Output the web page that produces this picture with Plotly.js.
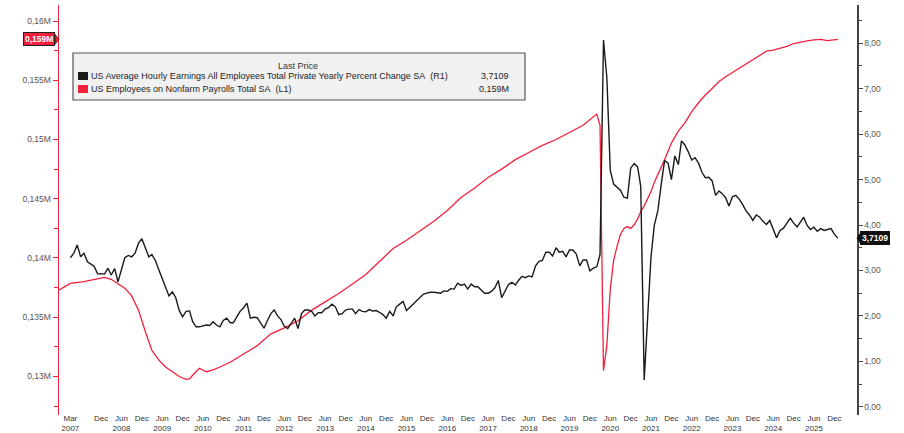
<!DOCTYPE html>
<html>
<head>
<meta charset="utf-8">
<script src="https://cdn.plot.ly/plotly-3.0.1.min.js"></script>
<style>
  html, body { margin: 0; padding: 0; background: #ffffff; }
  #chart { width: 904px; height: 433px; }
</style>
</head>
<body>
<div id="chart"></div>
<script>
// ---------------- DATA ----------------
// US Average Hourly Earnings, yoy % (R1), monthly from Mar 2007
const aheStart = '2007-03';
const aheValues = [
  /*2007*/ 3.28, 3.38, 3.56, 3.30, 3.38, 3.19, 3.14, 3.09, 2.92, 2.93,
  /*2008*/ 2.92, 3.05, 2.90, 3.04, 2.75, 3.05, 3.28, 3.33, 3.30, 3.38, 3.60, 3.70,
  /*2009*/ 3.50, 3.30, 3.35, 3.22, 3.02, 2.82, 2.60, 2.44, 2.53, 2.40, 2.12, 1.98,
  /*2010*/ 2.10, 2.11, 1.88, 1.76, 1.76, 1.78, 1.80, 1.79, 1.87, 1.80, 1.76, 1.90,
  /*2011*/ 1.95, 1.85, 1.85, 1.98, 2.10, 2.18, 2.28, 1.95, 1.97, 1.96, 1.84, 1.73,
  /*2012*/ 1.90, 2.05, 2.13, 2.00, 1.92, 1.77, 1.72, 1.83, 1.95, 1.72, 2.05, 2.13,
  /*2013*/ 2.13, 2.10, 2.00, 2.07, 2.07, 2.15, 2.18, 2.26, 2.20, 2.03, 2.05, 2.13,
  /*2014*/ 2.15, 2.15, 2.05, 2.14, 2.10, 2.09, 2.14, 2.11, 2.12, 2.08, 2.03, 1.95,
  /*2015*/ 2.10, 2.00, 2.20, 2.26, 2.32, 2.12, 2.20, 2.26, 2.34, 2.42, 2.48, 2.50,
  /*2016*/ 2.52, 2.52, 2.51, 2.50, 2.55, 2.54, 2.60, 2.59, 2.72, 2.67, 2.70, 2.59,
  /*2017*/ 2.70, 2.64, 2.64, 2.56, 2.50, 2.50, 2.54, 2.62, 2.78, 2.40, 2.56, 2.69,
  /*2018*/ 2.74, 2.68, 2.78, 2.87, 2.84, 2.88, 2.86, 3.10, 3.20, 3.22, 3.40, 3.40,
  /*2019*/ 3.32, 3.50, 3.40, 3.42, 3.30, 3.45, 3.45, 3.36, 3.10, 3.23, 3.23, 2.99,
  /*2020*/ 3.05, 3.08, 3.35, 8.07, 7.25, 5.20, 4.90, 4.82, 4.76, 4.61, 4.59, 5.25,
  /*2021*/ 5.35, 5.28, 4.85, 0.59, 2.00, 3.30, 4.00, 4.31, 4.90, 5.42, 5.36, 5.00,
  /*2022*/ 5.52, 5.33, 5.85, 5.76, 5.61, 5.43, 5.48, 5.36, 5.16, 5.04, 5.05, 4.97,
  /*2023*/ 4.65, 4.75, 4.69, 4.60, 4.42, 4.62, 4.65, 4.57, 4.45, 4.31, 4.22, 4.10,
  /*2024*/ 4.22, 4.17, 4.08, 4.01, 4.10, 3.90, 3.72, 3.88, 3.93, 4.04, 4.15, 4.04,
  /*2025*/ 3.96, 4.07, 4.17, 3.99, 3.90, 3.95, 3.86, 3.92, 3.88, 3.90, 3.92, 3.80,
  /*2026*/ 3.7109
];

// US Employees on Nonfarm Payrolls Total SA (L1), millions
const nfpDates = [
  '2006-11-01',
  '2007-03-01','2007-07-01','2007-11-01',
  '2008-01-01','2008-03-01','2008-05-01','2008-07-01','2008-09-01','2008-11-01',
  '2009-01-01','2009-03-01','2009-05-01','2009-07-01','2009-09-01','2009-11-01',
  '2010-01-01','2010-02-01','2010-03-01','2010-05-01','2010-07-01','2010-09-01','2010-11-01',
  '2011-02-01','2011-06-01','2011-10-01',
  '2012-02-01','2012-06-01','2012-10-01',
  '2013-02-01','2013-06-01','2013-10-01',
  '2014-02-01','2014-06-01','2014-10-01',
  '2015-02-01','2015-06-01','2015-10-01',
  '2016-02-01','2016-06-01','2016-10-01',
  '2017-02-01','2017-06-01','2017-10-01',
  '2018-02-01','2018-06-01','2018-10-01',
  '2019-02-01','2019-06-01','2019-10-01',
  '2020-02-01','2020-03-01','2020-04-01','2020-05-01','2020-06-01','2020-07-01','2020-08-01','2020-09-01','2020-10-01','2020-11-01','2020-12-01',
  '2021-01-01','2021-02-01','2021-03-01','2021-04-01','2021-05-01','2021-06-01','2021-07-01','2021-08-01','2021-09-01','2021-10-01','2021-12-01',
  '2022-02-01','2022-04-01','2022-06-01','2022-08-01','2022-10-01','2022-12-01',
  '2023-02-01','2023-04-01','2023-06-01','2023-08-01','2023-10-01','2023-12-01',
  '2024-02-01','2024-04-01','2024-06-01','2024-08-01','2024-10-01','2024-12-01',
  '2025-02-01','2025-04-01','2025-06-01','2025-08-01','2025-10-01','2025-12-01',
  '2026-01-01'
];
const nfpValues = [
  137.2,
  137.85, 138.0, 138.25,
  138.37, 138.2, 137.85, 137.45, 136.8, 135.6,
  133.8, 132.2, 131.4, 130.8, 130.4, 130.0,
  129.75, 129.8, 130.1, 130.7, 130.4, 130.55, 130.8,
  131.2, 131.9, 132.6,
  133.6, 134.1, 134.7,
  135.6, 136.3, 137.0,
  137.8, 138.6, 139.7,
  140.8, 141.5, 142.3,
  143.1, 144.0, 145.1,
  145.9, 146.8, 147.5,
  148.3, 148.9, 149.5,
  150.0, 150.6, 151.2,
  152.15, 151.2, 130.5, 132.6, 137.4, 139.8, 141.0, 142.0, 142.5, 142.65, 142.5,
  142.8, 143.3, 143.9, 144.4, 145.0, 145.6, 146.4, 147.0, 147.6, 148.3, 149.7,
  150.7, 151.4, 152.35, 153.1, 153.75, 154.3,
  154.9, 155.3, 155.65, 156.05, 156.4, 156.75,
  157.1, 157.45, 157.55, 157.7, 157.85, 158.1,
  158.25, 158.33, 158.4, 158.45, 158.35, 158.4,
  158.45
];

// Tick labels
const xTickVals = [
  '2007-03-01','2007-12-01',
  '2008-06-01','2008-12-01','2009-06-01','2009-12-01','2010-06-01','2010-12-01',
  '2011-06-01','2011-12-01','2012-06-01','2012-12-01','2013-06-01','2013-12-01',
  '2014-06-01','2014-12-01','2015-06-01','2015-12-01','2016-06-01','2016-12-01',
  '2017-06-01','2017-12-01','2018-06-01','2018-12-01','2019-06-01','2019-12-01',
  '2020-06-01','2020-12-01','2021-06-01','2021-12-01','2022-06-01','2022-12-01',
  '2023-06-01','2023-12-01','2024-06-01','2024-12-01','2025-06-01','2025-12-01'
];
const xTickText = [
  'Mar<br>2007','Dec',
  'Jun<br>2008','Dec','Jun<br>2009','Dec','Jun<br>2010','Dec',
  'Jun<br>2011','Dec','Jun<br>2012','Dec','Jun<br>2013','Dec',
  'Jun<br>2014','Dec','Jun<br>2015','Dec','Jun<br>2016','Dec',
  'Jun<br>2017','Dec','Jun<br>2018','Dec','Jun<br>2019','Dec',
  'Jun<br>2020','Dec','Jun<br>2021','Dec','Jun<br>2022','Dec',
  'Jun<br>2023','Dec','Jun<br>2024','Dec','Jun<br>2025','Dec'
];
const leftTickVals = [130, 135, 140, 145, 150, 155, 160];
const leftTickText = ['0,13M','0,135M','0,14M','0,145M','0,15M','0,155M','0,16M'];
const rightTickVals = [0, 1, 2, 3, 4, 5, 6, 7, 8];
const rightTickText = ['0,00','1,00','2,00','3,00','4,00','5,00','6,00','7,00','8,00'];

const legendTitle = 'Last Price';
const aheName = 'US Average Hourly Earnings All Employees Total Private Yearly Percent Change SA\u00a0\u00a0(R1)';
const nfpName = 'US Employees on Nonfarm Payrolls Total SA\u00a0\u00a0(L1)';
const aheLastLabel = '3,7109';
const nfpLastLabel = '0,159M';

// ---------------- BUILD ----------------
function monthSeq(start, n) {
  const [y0, m0] = start.split('-').map(Number);
  const out = [];
  for (let i = 0; i < n; i++) {
    const t = (m0 - 1) + i;
    const y = y0 + Math.floor(t / 12);
    const m = (t % 12) + 1;
    out.push(y + '-' + String(m).padStart(2, '0') + '-01');
  }
  return out;
}
const aheDates = monthSeq(aheStart, aheValues.length);

const RED = '#f2203c';
const BLACK = '#1a1a1a';
const FONT = '"Liberation Sans", Arial, sans-serif';

const traces = [
  { x: nfpDates, y: nfpValues, type: 'scatter', mode: 'lines', yaxis: 'y',
    line: { color: RED, width: 1.3 }, hoverinfo: 'skip' },
  { x: aheDates, y: aheValues, type: 'scatter', mode: 'lines', yaxis: 'y2',
    line: { color: BLACK, width: 1.4 }, hoverinfo: 'skip' }
];

const L = 59, R = 857, T = 5, B = 415;
const px = v => (v - L) / (R - L);
const py = v => (B - v) / (B - T);

const lastNfp = nfpValues[nfpValues.length - 1];
const lastAhe = aheValues[aheValues.length - 1];

const layout = {
  width: 904, height: 433,
  margin: { l: L, r: 904 - R, t: T, b: 433 - B, pad: 0 },
  paper_bgcolor: '#ffffff', plot_bgcolor: '#ffffff',
  showlegend: false,
  font: { family: FONT, size: 8.5, color: '#444' },
  xaxis: {
    type: 'date', range: ['2006-11-19', '2026-06-22'],
    tickmode: 'array', tickvals: xTickVals, ticktext: xTickText,
    ticks: '', showgrid: false, zeroline: false, showline: false,
    ticklabelstandoff: -3,
    tickfont: { family: FONT, size: 8, color: '#333' }, automargin: false
  },
  yaxis: {
    range: [126.75, 161.35],
    tickmode: 'array', tickvals: leftTickVals, ticktext: leftTickText,
    ticks: 'outside', ticklen: 5, tickwidth: 1, tickcolor: RED,
    showline: true, linecolor: RED, linewidth: 1.5,
    showgrid: false, zeroline: false, automargin: false,
    tickfont: { family: FONT, size: 8.5, color: '#555' },
    minor: { tickmode: 'linear', tick0: 127.5, dtick: 5, ticks: 'outside', ticklen: 4, tickcolor: RED, showgrid: false }
  },
  yaxis2: {
    overlaying: 'y', side: 'right',
    range: [-0.18, 8.84],
    tickmode: 'array', tickvals: rightTickVals, ticktext: rightTickText,
    ticks: 'outside', ticklen: 4, tickwidth: 1, tickcolor: '#444',
    showline: true, linecolor: '#444', linewidth: 1.5,
    showgrid: false, zeroline: false, automargin: false,
    tickfont: { family: FONT, size: 8.5, color: '#555' },
    minor: { tickmode: 'linear', tick0: 0.5, dtick: 1, ticks: 'outside', ticklen: 3, tickcolor: '#444', showgrid: false }
  },
  shapes: [
    // legend box
    { type: 'rect', xref: 'paper', yref: 'paper', x0: px(73), x1: px(525), y0: py(100), y1: py(53),
      fillcolor: '#f1f1f1', line: { color: '#555', width: 1.2 }, layer: 'above' },
    { type: 'rect', xref: 'paper', yref: 'paper', x0: px(78), x1: px(88), y0: py(80), y1: py(72),
      fillcolor: BLACK, line: { width: 0 }, layer: 'above' },
    { type: 'rect', xref: 'paper', yref: 'paper', x0: px(78), x1: px(88), y0: py(93), y1: py(85),
      fillcolor: RED, line: { width: 0 }, layer: 'above' },
    // pointers for last-value labels
    { type: 'path', xref: 'paper', yref: 'y',
      path: 'M ' + px(55) + ' ' + (lastNfp + 0.42) + ' L ' + px(59) + ' ' + lastNfp + ' L ' + px(55) + ' ' + (lastNfp - 0.42) + ' Z',
      fillcolor: RED, line: { color: '#222', width: 0.8 } },
    { type: 'path', xref: 'paper', yref: 'y2',
      path: 'M ' + px(861) + ' ' + (lastAhe + 0.13) + ' L ' + px(857) + ' ' + lastAhe + ' L ' + px(861) + ' ' + (lastAhe - 0.13) + ' Z',
      fillcolor: '#111', line: { color: '#111', width: 0.8 } }
  ],
  annotations: [
    { xref: 'paper', yref: 'paper', x: px(298), y: py(66), text: legendTitle, showarrow: false,
      xanchor: 'center', yanchor: 'middle', font: { family: FONT, size: 9, color: '#333' } },
    { xref: 'paper', yref: 'paper', x: px(89), y: py(76), text: aheName, showarrow: false,
      xanchor: 'left', yanchor: 'middle', font: { family: FONT, size: 9, color: '#222' } },
    { xref: 'paper', yref: 'paper', x: px(511), y: py(76), text: aheLastLabel, showarrow: false,
      xanchor: 'right', yanchor: 'middle', font: { family: FONT, size: 9, color: '#222' } },
    { xref: 'paper', yref: 'paper', x: px(89), y: py(89), text: nfpName, showarrow: false,
      xanchor: 'left', yanchor: 'middle', font: { family: FONT, size: 9, color: '#222' } },
    { xref: 'paper', yref: 'paper', x: px(511), y: py(89), text: nfpLastLabel, showarrow: false,
      xanchor: 'right', yanchor: 'middle', font: { family: FONT, size: 9, color: '#222' } },
    { xref: 'paper', yref: 'y', x: px(55), y: lastNfp, text: '<b>' + nfpLastLabel + '</b>', showarrow: false,
      xanchor: 'right', yanchor: 'middle', bgcolor: RED, bordercolor: '#222', borderwidth: 1, borderpad: 1,
      font: { family: FONT, size: 8.5, color: '#ffffff' } },
    { xref: 'paper', yref: 'y2', x: px(860), y: lastAhe, text: '<b>' + aheLastLabel + '</b>', showarrow: false,
      xanchor: 'left', yanchor: 'middle', bgcolor: '#111', bordercolor: '#111', borderwidth: 1, borderpad: 1,
      font: { family: FONT, size: 8.5, color: '#ffffff' } }
  ]
};

Plotly.newPlot('chart', traces, layout, { displayModeBar: false, staticPlot: true });
</script>
</body>
</html>
